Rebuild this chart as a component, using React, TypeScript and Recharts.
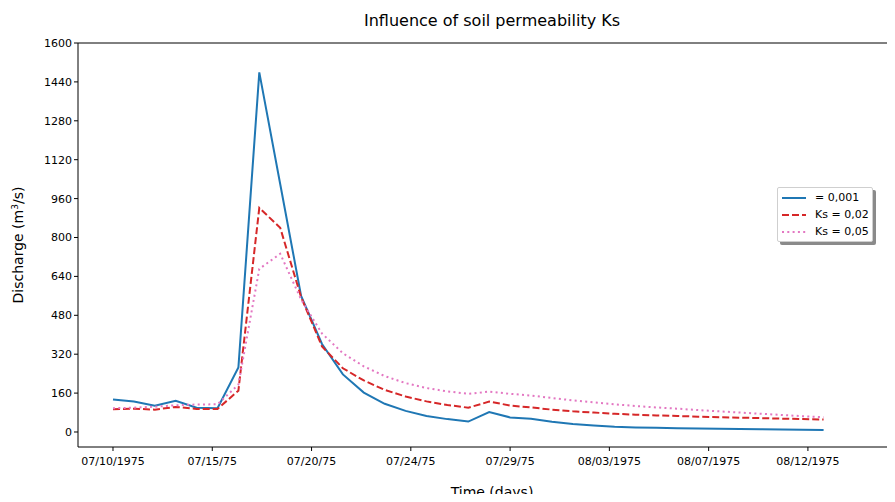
import React from 'react';
import { LineChart, Line, XAxis, YAxis, ReferenceLine } from 'recharts';

// simulated discharge (m3/s), one value per time step
const ks001 = [
  134, 125, 108, 128, 100, 98, 265, 1479, 1020, 560, 362, 237, 162, 116, 87, 66, 53, 43,
  82, 60, 54, 42, 33, 27, 22, 19, 17, 15, 14, 13, 12, 11, 10, 9.5, 8,
];
const ks002 = [
  94, 96, 92, 103, 95, 95, 170, 922, 840, 555, 352, 262, 212, 173, 146, 126, 111, 100,
  125, 109, 101, 92, 85, 80, 75, 71, 68, 66, 63, 61, 59, 57, 55, 53, 51,
];
const ks005 = [
  98, 100, 104, 110, 113, 114, 195, 671, 733, 545, 405, 324, 270, 230, 201, 181, 167, 157,
  166, 157, 150, 140, 130, 122, 114, 107, 101, 96, 90, 85, 80, 75, 70, 65, 61,
];

const seriesNames = ['= 0,001', 'Ks = 0,02', 'Ks = 0,05'];
const seriesColors = ['#1f77b4', '#d62728', '#e377c2'];
const seriesDash = ['', '7 3', '2 3.3'];

const dateTicks = [0, 4.75, 9.5, 14.25, 19, 23.75, 28.5, 33.25];
const dateLabels = [
  '07/10/1975', '07/15/75', '07/20/75', '07/24/75', '07/29/75', '08/03/1975', '08/07/1975', '08/12/1975',
];
const dischargeTicks = [0, 160, 320, 480, 640, 800, 960, 1120, 1280, 1440, 1600];

const data = ks001.map((v, i) => ({ i, a: v, b: ks002[i], c: ks005[i] }));
const keys = ['a', 'b', 'c'];

const FONT = '"DejaVu Sans", sans-serif';

// legend box with the grey drop shadow, placed over the plot
const LegendBox = () => (
  <div
    style={{
      position: 'absolute',
      left: 777,
      top: 187,
      background: '#fff',
      border: '1px solid #cfcfcf',
      borderRadius: 2,
      boxShadow: '3px 3px 0 #8a8a8a',
      padding: '1px 3px 1px 4px',
      fontFamily: FONT,
      fontSize: 11,
      color: '#000',
    }}
  >
    {seriesNames.map((name, k) => (
      <div key={name} style={{ display: 'flex', alignItems: 'center', height: 17 }}>
        <svg width={24} height={6} style={{ marginRight: 9 }}>
          <line x1={0} y1={3} x2={24} y2={3} stroke={seriesColors[k]} strokeWidth={2} strokeDasharray={seriesDash[k]} />
        </svg>
        <span>{name}</span>
      </div>
    ))}
  </div>
);

export default function App() {
  return (
    <div style={{ margin: -8, width: 895, height: 502, overflow: 'hidden', position: 'relative', background: '#fff', fontFamily: FONT }}>
      <div style={{ position: 'absolute', left: 0, width: 984, top: 11, textAlign: 'center', fontSize: 16, color: '#000' }}>
        Influence of soil permeability Ks
      </div>
      <div style={{ position: 'absolute', left: 0, width: 984, top: 484, textAlign: 'center', fontSize: 14, color: '#000' }}>
        Time (days)
      </div>
      <div
        style={{
          position: 'absolute', left: 18, top: 245, fontSize: 14, color: '#000', whiteSpace: 'nowrap',
          transform: 'translate(-50%, -50%) rotate(-90deg)',
        }}
      >
        Discharge (m<sup style={{ fontSize: 9 }}>3</sup>/s)
      </div>
      <LineChart width={910} height={502} data={data} margin={{ top: 43, right: 4, bottom: 0, left: 0 }}>
        <XAxis
          dataKey="i"
          type="number"
          domain={[-1.6746, 37.943]}
          allowDataOverflow
          ticks={dateTicks}
          tickFormatter={(v: number) => dateLabels[dateTicks.indexOf(v)] ?? ''}
          height={55}
          tickSize={4}
          tickMargin={6}
          stroke="#000"
          tick={{ fill: '#000', fontSize: 11, fontFamily: FONT }}
          interval={0}
        />
        <YAxis
          domain={[-61.7, 1600]}
          allowDataOverflow
          ticks={dischargeTicks}
          width={78}
          tickSize={4}
          stroke="#000"
          tick={{ fill: '#000', fontSize: 11, fontFamily: FONT }}
          interval={0}
        />
        <ReferenceLine y={1600} stroke="#000" strokeWidth={1} />
        {keys.map((k, n) => (
          <Line
            key={k}
            dataKey={k}
            name={seriesNames[n]}
            type="linear"
            stroke={seriesColors[n]}
            strokeWidth={2}
            strokeDasharray={seriesDash[n] || undefined}
            dot={false}
            activeDot={false}
            isAnimationActive={false}
          />
        ))}
      </LineChart>
      <LegendBox />
    </div>
  );
}
